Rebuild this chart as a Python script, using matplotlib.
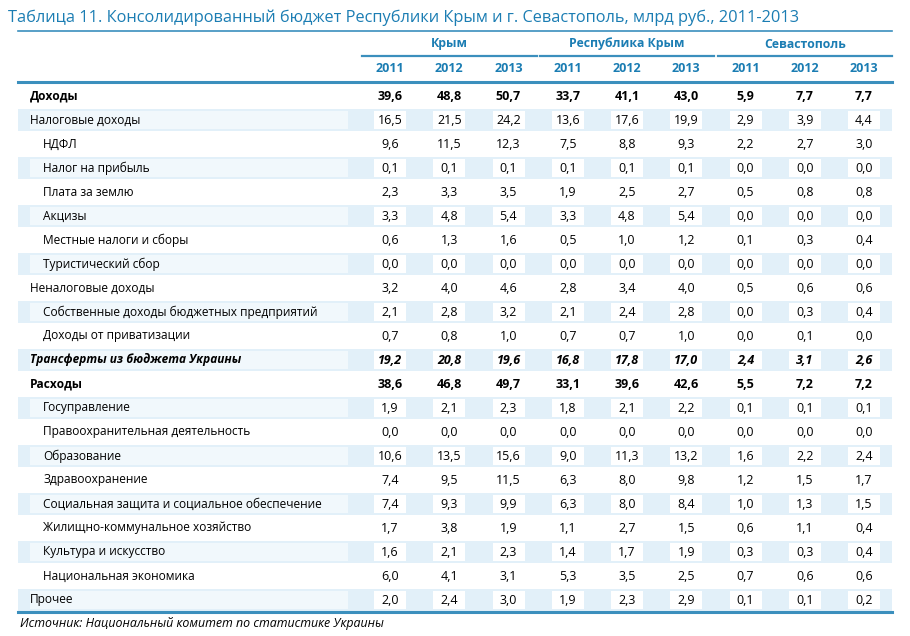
import matplotlib.pyplot as plt
from matplotlib.patches import Rectangle

plt.rcParams['font.family'] = ['Open Sans', 'DejaVu Sans']

title = "Таблица 11. Консолидированный бюджет Республики Крым и г. Севастополь, млрд руб., 2011-2013"
groups = ["Крым", "Республика Крым", "Севастополь"]
years = ["2011", "2012", "2013"]
source = "Источник: Национальный комитет по статистике Украины"

labels = [
    "Доходы", "Налоговые доходы", "НДФЛ", "Налог на прибыль", "Плата за землю",
    "Акцизы", "Местные налоги и сборы", "Туристический сбор", "Неналоговые доходы",
    "Собственные доходы бюджетных предприятий", "Доходы от приватизации",
    "Трансферты из бюджета Украины", "Расходы", "Госуправление",
    "Правоохранительная деятельность", "Образование", "Здравоохранение",
    "Социальная защита и социальное обеспечение", "Жилищно-коммунальное хозяйство",
    "Культура и искусство", "Национальная экономика", "Прочее",
]
# 0 = top level, 1 = indented
levels = [0, 0, 1, 1, 1, 1, 1, 1, 0, 1, 1, 0, 0, 1, 1, 1, 1, 1, 1, 1, 1, 0]
bold_rows = [0, 11, 12]
italic_rows = [11]

krym = [
    [39.6, 48.8, 50.7], [16.5, 21.5, 24.2], [9.6, 11.5, 12.3], [0.1, 0.1, 0.1],
    [2.3, 3.3, 3.5], [3.3, 4.8, 5.4], [0.6, 1.3, 1.6], [0.0, 0.0, 0.0],
    [3.2, 4.0, 4.6], [2.1, 2.8, 3.2], [0.7, 0.8, 1.0], [19.2, 20.8, 19.6],
    [38.6, 46.8, 49.7], [1.9, 2.1, 2.3], [0.0, 0.0, 0.0], [10.6, 13.5, 15.6],
    [7.4, 9.5, 11.5], [7.4, 9.3, 9.9], [1.7, 3.8, 1.9], [1.6, 2.1, 2.3],
    [6.0, 4.1, 3.1], [2.0, 2.4, 3.0],
]
resp_krym = [
    [33.7, 41.1, 43.0], [13.6, 17.6, 19.9], [7.5, 8.8, 9.3], [0.1, 0.1, 0.1],
    [1.9, 2.5, 2.7], [3.3, 4.8, 5.4], [0.5, 1.0, 1.2], [0.0, 0.0, 0.0],
    [2.8, 3.4, 4.0], [2.1, 2.4, 2.8], [0.7, 0.7, 1.0], [16.8, 17.8, 17.0],
    [33.1, 39.6, 42.6], [1.8, 2.1, 2.2], [0.0, 0.0, 0.0], [9.0, 11.3, 13.2],
    [6.3, 8.0, 9.8], [6.3, 8.0, 8.4], [1.1, 2.7, 1.5], [1.4, 1.7, 1.9],
    [5.3, 3.5, 2.5], [1.9, 2.3, 2.9],
]
sevastopol = [
    [5.9, 7.7, 7.7], [2.9, 3.9, 4.4], [2.2, 2.7, 3.0], [0.0, 0.0, 0.0],
    [0.5, 0.8, 0.8], [0.0, 0.0, 0.0], [0.1, 0.3, 0.4], [0.0, 0.0, 0.0],
    [0.5, 0.6, 0.6], [0.0, 0.3, 0.4], [0.0, 0.1, 0.0], [2.4, 3.1, 2.6],
    [5.5, 7.2, 7.2], [0.1, 0.1, 0.1], [0.0, 0.0, 0.0], [1.6, 2.2, 2.4],
    [1.2, 1.5, 1.7], [1.0, 1.3, 1.5], [0.6, 1.1, 0.4], [0.3, 0.3, 0.4],
    [0.7, 0.6, 0.6], [0.1, 0.1, 0.2],
]

blue = "#1b7db3"
line_c = "#3b8fbd"
band = "#e2f0f9"
band_light = "#f1f8fc"

fig = plt.figure(figsize=(9.1, 6.36), dpi=100)
ax = fig.add_axes([0, 0, 1, 1])
ax.set_xlim(0, 910)
ax.set_ylim(636, 0)
ax.axis("off")

col_x = [390 + 59.25 * i for i in range(9)]
row_y0, row_h = 96, 24.0

ax.text(8, 18, title, color=blue, fontsize=11.8, va="center", ha="left")
ax.plot([18, 892], [31, 31], color=line_c, lw=1.2)

for g, name in enumerate(groups):
    cx = col_x[g * 3 + 1]
    ax.text(cx, 44, name, color=blue, fontsize=8.8, fontweight="bold", ha="center", va="center")
    ax.plot([col_x[g * 3] - 28, col_x[g * 3 + 2] + 28], [56, 56], color=line_c, lw=1.6)
    for j, yr in enumerate(years):
        ax.text(col_x[g * 3 + j], 69, yr, color=blue, fontsize=9, fontweight="bold",
                ha="center", va="center")
ax.plot([18, 892], [82, 82], color=line_c, lw=2.2)

for i, lab in enumerate(labels):
    y = row_y0 + i * row_h
    if i % 2 == 1:
        ax.add_patch(Rectangle((18, y - row_h / 2 + 1), 874, row_h - 2, color=band, lw=0))
        ax.add_patch(Rectangle((30, y - row_h / 2 + 3), 318, row_h - 6, color=band_light, lw=0))
        for cx in col_x:
            ax.add_patch(Rectangle((cx - 16, y - row_h / 2 + 3), 32, row_h - 6,
                                   color="white", lw=0))
    weight = "bold" if i in bold_rows else "normal"
    style = "italic" if i in italic_rows else "normal"
    x = 30 if levels[i] == 0 else 43
    ax.text(x, y, lab, fontsize=8.6, fontweight=weight, fontstyle=style,
            ha="left", va="center", color="black")
    vals = krym[i] + resp_krym[i] + sevastopol[i]
    for cx, v in zip(col_x, vals):
        ax.text(cx, y, f"{v:.1f}".replace(".", ","), fontsize=9, fontweight=weight,
                fontstyle=style, ha="center", va="center", color="black")

ax.plot([18, 892], [612, 612], color=line_c, lw=2.2)
ax.text(20, 624, source, fontsize=8.9, fontstyle="italic", ha="left", va="center")

fig.savefig("out.png", dpi=100)
